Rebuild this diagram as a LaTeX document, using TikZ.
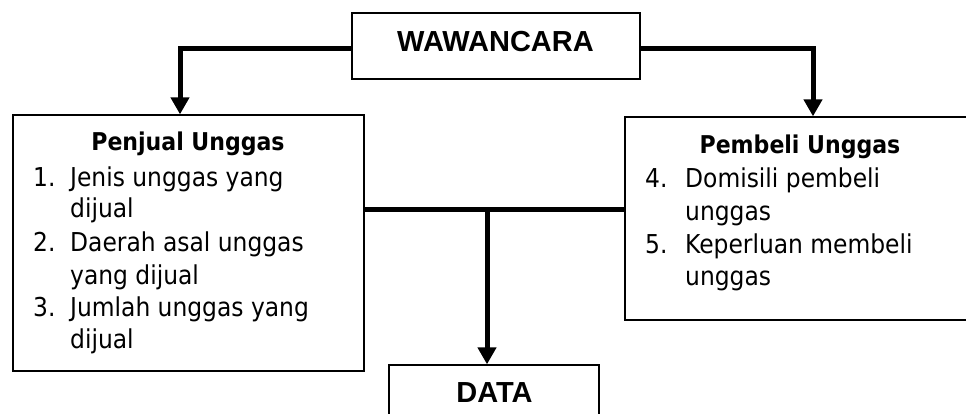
\documentclass[tikz,border=0pt]{standalone}
\usepackage{fontspec}
\setmainfont{DejaVu Sans Condensed}
\newfontfamily\arialfont{Liberation Sans}
\usetikzlibrary{arrows.meta}
\begin{document}
\begin{tikzpicture}[x=1pt,y=-1pt,
  box/.style={draw,line width=1.3pt,fill=white},
  conn/.style={line width=5pt},
  arr/.style={line width=5pt,-{Triangle[width=18pt,length=17pt]}},
  titletext/.style={font=\arialfont\bfseries\fontsize{29}{32}\selectfont,inner sep=0pt},
  headtext/.style={font=\bfseries\fontsize{24.5}{28}\selectfont,inner sep=0pt,anchor=base},
  bodytext/.style={font=\fontsize{26}{30}\selectfont,inner sep=0pt,anchor=base west}]
\useasboundingbox (0,0) rectangle (966,414);
\clip (0,0) rectangle (966,414);
% boxes
\node[box,minimum width=288pt,minimum height=66pt] (wcara) at (496,46) {};
\node[titletext] (wcaraT) at (495.5,42) {WAWANCARA};
\node[box,minimum width=351pt,minimum height=256pt] (penjual) at (188.5,243) {};
\node[box,minimum width=350pt,minimum height=203pt] (pembeli) at (800,218.5) {};
\node[box,minimum width=210pt,minimum height=70pt] (data) at (494,400) {};
\node[titletext] (dataT) at (494.5,392.5) {DATA};
% left box text
\node[headtext] (pjh) at (188,151) {Penjual Unggas};
\node[bodytext] (n1) at (33,187) {1.};
\node[bodytext] (t1a) at (70,187) {Jenis unggas yang};
\node[bodytext] (t1b) at (70,218) {dijual};
\node[bodytext] (n2) at (33,251) {2.};
\node[bodytext] (t2a) at (70,251) {Daerah asal unggas};
\node[bodytext] (t2b) at (70,284) {yang dijual};
\node[bodytext] (n3) at (33,316) {3.};
\node[bodytext] (t3a) at (70,316) {Jumlah unggas yang};
\node[bodytext] (t3b) at (70,348) {dijual};
% right box text
\node[headtext] (pbh) at (800,154) {Pembeli Unggas};
\node[bodytext] (n4) at (645,188) {4.};
\node[bodytext] (t4a) at (685,188) {Domisili pembeli};
\node[bodytext] (t4b) at (685,220) {unggas};
\node[bodytext] (n5) at (645,253) {5.};
\node[bodytext] (t5a) at (685,253) {Keperluan membeli};
\node[bodytext] (t5b) at (685,285) {unggas};
% connectors
\coordinate (lc) at (180,49);
\coordinate (rc) at (813,49);
\draw[arr] (wcara.west |- lc) -- (lc) -- (lc |- penjual.north);
\draw[arr] (wcara.east |- rc) -- (rc) -- (rc |- pembeli.north);
\coordinate (mid) at (487,210);
\draw[conn] (penjual.east |- mid) -- (pembeli.west |- mid);
\draw[arr] (mid) -- (mid |- data.north);
\end{tikzpicture}
\end{document}
